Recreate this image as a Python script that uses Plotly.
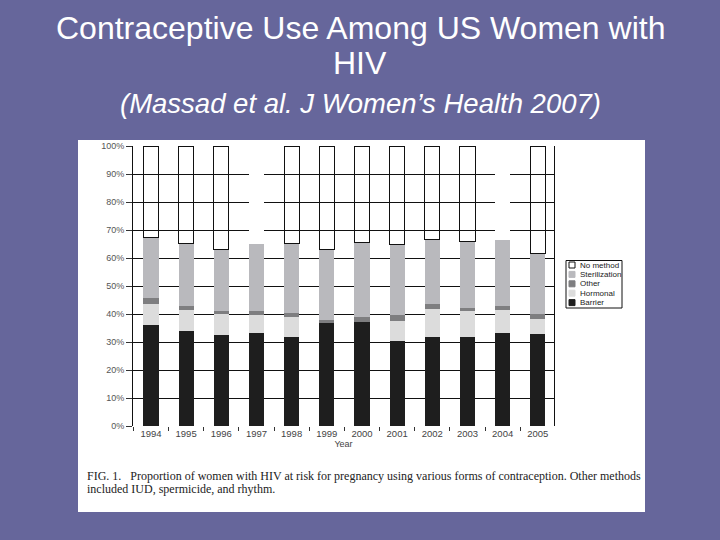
import plotly.graph_objects as go

years = ["1994", "1995", "1996", "1997", "1998", "1999", "2000", "2001", "2002", "2003", "2004", "2005"]
barrier = [36.2, 34.1, 32.6, 33.3, 31.9, 36.9, 37.3, 30.5, 31.9, 31.9, 33.3, 33.0]
hormonal = [7.4, 7.3, 7.4, 6.3, 6.9, 0.0, 0.0, 7.1, 10.0, 9.3, 8.3, 5.1]
other = [2.1, 1.6, 1.2, 1.6, 1.7, 1.1, 1.8, 2.1, 1.7, 0.9, 1.3, 1.9]
sterilization = [21.8, 22.3, 21.9, 23.9, 24.6, 24.9, 26.3, 25.0, 23.1, 23.9, 23.4, 21.7]
no_method = [32.5, 34.7, 36.9, 34.9, 34.9, 37.1, 34.6, 35.3, 33.3, 34.0, 33.7, 38.3]
y_ticks = [0, 10, 20, 30, 40, 50, 60, 70, 80, 90, 100]
y_tick_labels = ["0%", "10%", "20%", "30%", "40%", "50%", "60%", "70%", "80%", "90%", "100%"]
legend_names = ["No method", "Sterilization", "Other", "Hormonal", "Barrier"]

# plot area in pixels
L, R, T, B = 133, 554, 146, 426
PW, PH = R - L, B - T


def px(x):
    return (x - L) / PW


def py(y):
    return (B - y) / PH


colors = {
    "Barrier": "#1e1e1e",
    "Hormonal": "#dcdcdc",
    "Other": "#7e7e80",
    "Sterilization": "#b9b9bd",
    "No method": "white",
}

fig = go.Figure()
W = 0.43
fig.add_bar(x=years, y=barrier, name="Barrier", marker=dict(color=colors["Barrier"], line=dict(width=0)), width=W)
fig.add_bar(x=years, y=hormonal, name="Hormonal", marker=dict(color=colors["Hormonal"], line=dict(width=0)), width=W)
fig.add_bar(x=years, y=other, name="Other", marker=dict(color=colors["Other"], line=dict(width=0)), width=W)
fig.add_bar(x=years, y=sterilization, name="Sterilization", marker=dict(color=colors["Sterilization"], line=dict(width=0)), width=W)
nm_fill = ["white" if y in ("1997", "2004") else "rgba(255,255,255,0)" for y in years]
nm_lw = [0 if y in ("1997", "2004") else 1 for y in years]
fig.add_bar(x=years, y=no_method, name="No method",
            marker=dict(color=nm_fill, line=dict(color="#111", width=nm_lw)), width=W)

shapes = [
    dict(type="rect", xref="paper", yref="paper",
         x0=px(78), x1=px(645), y0=py(512), y1=py(140),
         fillcolor="white", line=dict(width=0), layer="below"),
    # legend box
    dict(type="rect", xref="paper", yref="paper",
         x0=px(566), x1=px(622), y0=py(308), y1=py(260.5),
         fillcolor="white", line=dict(color="#111", width=1)),
]
annotations = [
    dict(text="Contraceptive Use Among US Women with", xref="paper", yref="paper",
         x=px(360), y=py(28), xanchor="center", yanchor="middle", showarrow=False,
         font=dict(family="Liberation Sans, Arial, sans-serif", size=32, color="white")),
    dict(text="HIV", xref="paper", yref="paper",
         x=px(360), y=py(63), xanchor="center", yanchor="middle", showarrow=False,
         font=dict(family="Liberation Sans, Arial, sans-serif", size=32, color="white")),
    dict(text="<i>(Massad et al. J Women’s Health 2007)</i>", xref="paper", yref="paper",
         x=px(360), y=py(103), xanchor="center", yanchor="middle", showarrow=False,
         font=dict(family="Liberation Sans, Arial, sans-serif", size=27.5, color="white")),
    dict(text="FIG. 1.   Proportion of women with HIV at risk for pregnancy using various forms of contraception. Other methods",
         xref="paper", yref="paper", x=px(85), y=py(476), xanchor="left", yanchor="middle",
         showarrow=False,
         font=dict(family="Liberation Serif, Times New Roman, serif", size=12, color="#222")),
    dict(text="included IUD, spermicide, and rhythm.",
         xref="paper", yref="paper", x=px(85), y=py(489), xanchor="left", yanchor="middle",
         showarrow=False,
         font=dict(family="Liberation Serif, Times New Roman, serif", size=12, color="#222")),
]
for i, name in enumerate(legend_names):
    yc = 265 + i * 9.4
    shapes.append(dict(type="rect", xref="paper", yref="paper",
                       x0=px(569), x1=px(575), y0=py(yc + 3), y1=py(yc - 3),
                       fillcolor=colors[name],
                       line=dict(color="#111" if name == "No method" else colors[name], width=1)))
    annotations.append(dict(text=name, xref="paper", yref="paper",
                            x=px(577.5), y=py(yc), xanchor="left", yanchor="middle",
                            showarrow=False,
                            font=dict(family="Liberation Sans, Arial, sans-serif", size=8, color="#222")))

fig.update_layout(
    barmode="stack",
    width=720, height=540,
    paper_bgcolor="#66669b",
    plot_bgcolor="white",
    margin=dict(l=L, r=720 - R, t=T, b=540 - B, autoexpand=False),
    font=dict(family="Liberation Sans, Arial, sans-serif", color="#444", size=9),
    showlegend=False,
    xaxis=dict(
        type="category",
        range=[-0.51, 11.46],
        showgrid=False, zeroline=False, showline=False,
        ticks="outside", tickson="boundaries", ticklen=4, tickcolor="#333",
        tickfont=dict(size=9.5, color="#444"),
        title=dict(text="Year", font=dict(size=9, color="#444"), standoff=3),
    ),
    yaxis=dict(
        range=[0, 100],
        tickvals=y_ticks, ticktext=y_tick_labels,
        showgrid=True, gridcolor="#111", gridwidth=1,
        zeroline=True, zerolinecolor="rgba(0,0,0,0)",
        showline=True, linecolor="#111", linewidth=1, mirror=True,
        ticks="outside", ticklen=6, tickcolor="#333",
        tickfont=dict(size=9, color="#555"),
    ),
    shapes=shapes,
    annotations=annotations,
)

fig.write_html("out.html", config={"displayModeBar": False},
               post_script="document.body.style.margin='0';document.body.style.background='#66669b';")
